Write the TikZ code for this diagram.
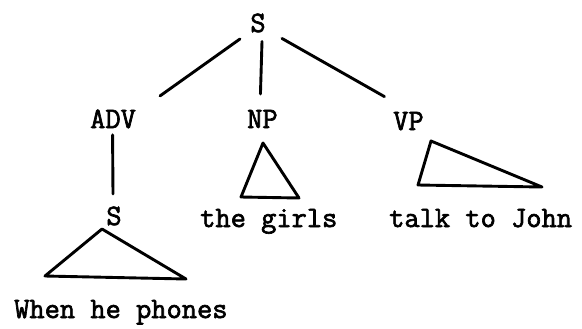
\documentclass[tikz,border=0pt]{standalone}
\usepackage{fontspec}
\newfontfamily\tw[FakeBold=2.2]{Latin Modern Mono}
\begin{document}
\begin{tikzpicture}[x=1bp,y=-1bp,
  lbl/.style={inner sep=0pt,font=\tw\fontsize{29.7}{32}\selectfont},
  br/.style={line width=2.9bp,line cap=round},
  tri/.style={line width=2.9bp,line join=round}]
\useasboundingbox (0,0) rectangle (582,328);
\node[lbl,anchor=base] (S) at (258,32) {S};
\node[lbl,anchor=base west] (ADV) at (90,128) {ADV};
\node[lbl,anchor=base west] (NP) at (247,128) {NP};
\node[lbl,anchor=base west] (VP) at (393,130) {VP};
\node[lbl,anchor=base] (S2) at (114,225) {S};
\node[lbl,anchor=base west] (w1) at (14,318) {When he phones};
\node[lbl,anchor=base west] (w2) at (200,227) {the girls};
\node[lbl,anchor=base west] (w3) at (389,227) {talk to John};
\draw[br] (S.center) ++(-18,16) -- ([shift={(47,-23)}]ADV.center);
\draw[br] ([shift={(4,18.5)}]S.center) -- ([shift={(-2,-25)}]NP.center);
\draw[br] ([shift={(24,15.5)}]S.center) -- ([shift={(-24,-24.5)}]VP.center);
\draw[br] ([shift={(-0.5,16)}]ADV.center) -- ([shift={(-1,-22)}]S2.center);
\draw[tri] (102,229) -- (45,276) -- (186,279) -- cycle;
\draw[tri] (263,143) -- (241,197) -- (299,198) -- cycle;
\draw[tri] (431,141) -- (418,185) -- (542,187) -- cycle;
\end{tikzpicture}
\end{document}
